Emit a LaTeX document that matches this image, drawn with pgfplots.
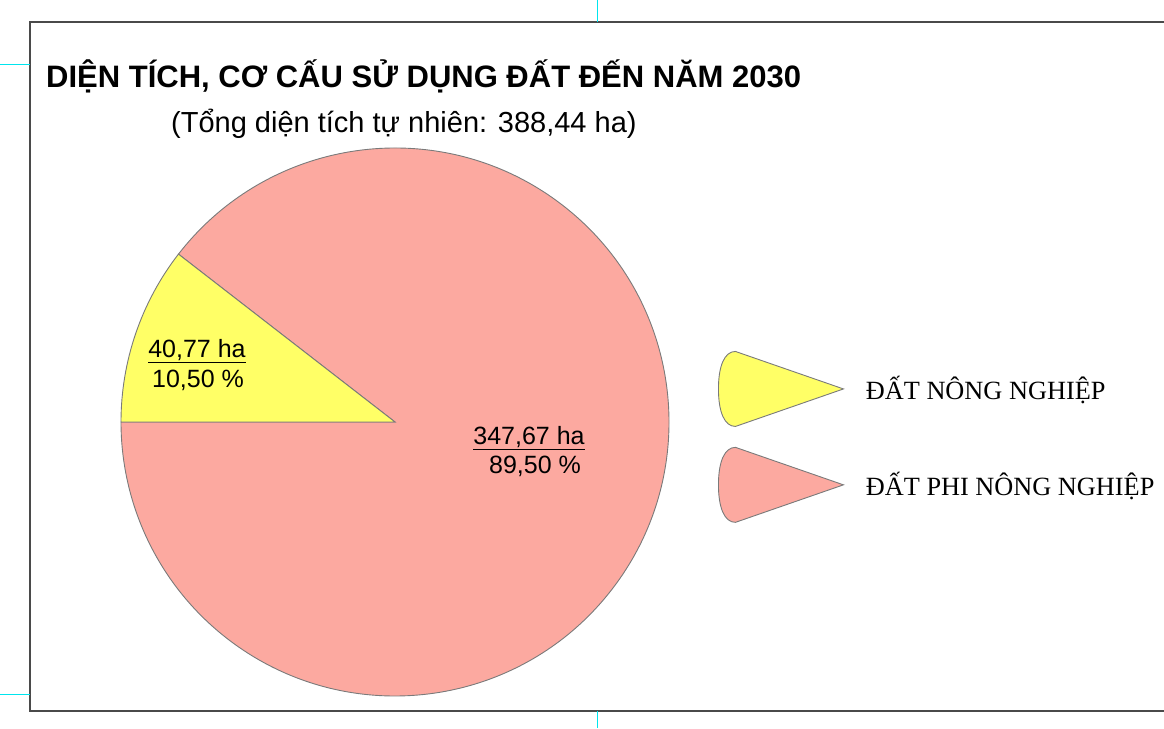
\documentclass[border=0pt]{standalone}
\usepackage{fontspec}
\setmainfont{Liberation Sans}
\newfontfamily\seriffont{Liberation Serif}
\usepackage{pgfplots}
\usepackage{pgfplotstable}
\pgfplotsset{compat=1.18}
\definecolor{pieyellow}{HTML}{FFFF66}
\definecolor{piepink}{HTML}{FCA9A0}
\definecolor{edgegray}{HTML}{7A7A7A}
\definecolor{framegray}{HTML}{4A4A4A}
\definecolor{cropcyan}{HTML}{00E5EE}

\pgfplotstableread{
value pct
40.77 10.50
347.67 89.50
}\landdata

\begin{document}
\begin{tikzpicture}
\pgfplotstablegetelem{0}{value}\of\landdata \edef\va{\pgfplotsretval}
\pgfplotstablegetelem{1}{value}\of\landdata \edef\vb{\pgfplotsretval}
\pgfmathsetmacro{\angA}{360*\va/(\va+\vb)}
\pgfmathsetmacro{\angB}{180-\angA}
\path[use as bounding box] (0,0) rectangle (1164pt,728pt);
% frame and crop marks
\draw[framegray, line width=1.5pt] (1164pt,706pt) -- (30pt,706pt) -- (30pt,17pt) -- (1164pt,17pt);
\draw[cropcyan, line width=1pt] (597pt,728pt) -- (597pt,706pt);
\draw[cropcyan, line width=1pt] (597pt,17pt) -- (597pt,0pt);
\draw[cropcyan, line width=1pt] (0pt,663pt) -- (30pt,663pt);
\draw[cropcyan, line width=1pt] (0pt,34pt) -- (30pt,34pt);
\begin{axis}[
  at={(0pt,0pt)}, anchor=south west,
  width=1164pt, height=728pt, scale only axis,
  xmin=0, xmax=1164, ymin=0, ymax=728,
  hide axis, clip=false,
  legend image code/.code={\filldraw[#1, line width=0.9pt] (0pt,0pt) -- (-108pt,37.5pt) .. controls (-119pt,37.5pt) and (-125pt,23pt) .. (-125pt,0pt) .. controls (-125pt,-23pt) and (-119pt,-37.5pt) .. (-108pt,-37.5pt) -- cycle;},
  legend style={draw=none, fill=none, inner sep=0pt, outer sep=0pt,
    at={(axis cs:718,377)}, anchor=north west,
    row sep=20pt, column sep=22pt,
    font=\seriffont\fontsize{26.3}{30}\selectfont,
    nodes={inner sep=0pt}},
  legend cell align=left,
]
\fill[piepink, draw=edgegray, line width=0.9pt] (axis cs:395,306) -- ++(\angB:274pt) arc[start angle=\angB, end angle=-180, radius=274pt] -- cycle;
\fill[pieyellow, draw=edgegray, line width=0.9pt] (axis cs:395,306) -- ++(180:274pt) arc[start angle=180, end angle=\angB, radius=274pt] -- cycle;
\addlegendimage{fill=pieyellow, draw=edgegray}
\addlegendentry{ĐẤT NÔNG NGHIỆP}
\addlegendimage{fill=piepink, draw=edgegray}
\addlegendentry{ĐẤT PHI NÔNG NGHIỆP}
\node[anchor=base, font=\fontsize{25}{30}\selectfont] at (axis cs:197,370) {\underline{40,77 ha}};
\node[anchor=base, font=\fontsize{25}{30}\selectfont] at (axis cs:198,340) {10,50 \%};
\node[anchor=base, font=\fontsize{25}{30}\selectfont] at (axis cs:529,283) {\underline{347,67 ha}};
\node[anchor=base, font=\fontsize{25}{30}\selectfont] at (axis cs:535,254) {89,50 \%};
\end{axis}
\node[anchor=base west, inner sep=0pt, font=\bfseries\fontsize{31}{36}\selectfont] at (46pt,640pt) {DIỆN TÍCH, CƠ CẤU SỬ DỤNG ĐẤT ĐẾN NĂM 2030};
\node[anchor=base west, inner sep=0pt, font=\fontsize{29}{34}\selectfont] at (171pt,595pt) {(Tổng diện tích tự nhiên: 388,44 ha)};
\end{tikzpicture}
\end{document}
